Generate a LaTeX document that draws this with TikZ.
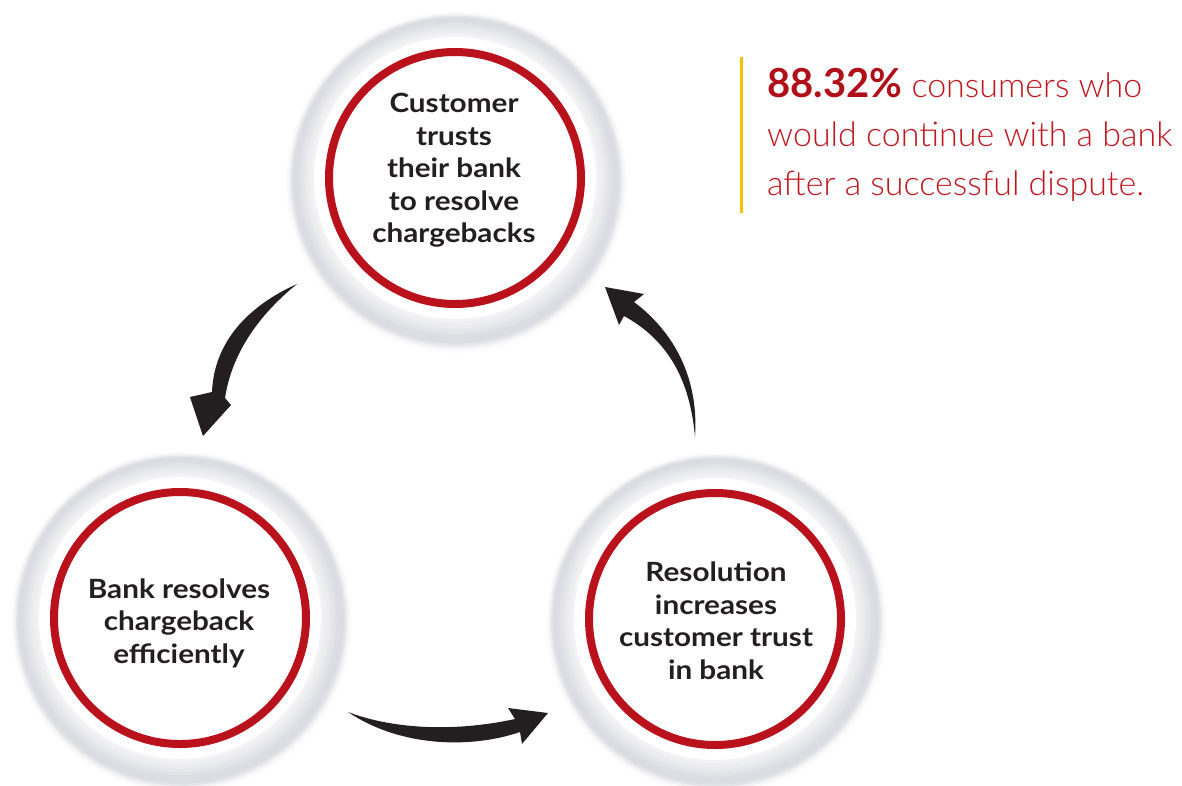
\documentclass[tikz,border=0pt]{standalone}
\usepackage{fontspec}
\setmainfont{Lato}
\newfontfamily\statlight{Lato Light}
\newfontfamily\circfont[FakeStretch=1.12]{Lato}
\usetikzlibrary{calc}

\definecolor{ringred}{RGB}{186,18,28}
\definecolor{statred}{RGB}{192,22,30}
\definecolor{statdark}{RGB}{176,16,26}
\definecolor{ink}{RGB}{35,31,32}
\definecolor{ringgrey}{RGB}{210,212,218}
\definecolor{bargold}{RGB}{246,192,0}

% grey embossed ring (darker towards its rim), white gap and red band
\newcommand\ringdisc[1]{%
  \foreach \rr/\pp/\dd in {171/4/4,169/14/3.6,167/34/3.2,165/62/2.8,163/76/2.4,
      161/80/2.0,159/76/1.6,156/66/1.2,153/55/0.9,150/45/0.6,147/36/0.3,144/28/0}{%
    \fill[ringgrey!\pp!white] ($(#1)+(0.4*\dd,\dd)$) circle[radius=\rr];
  }
  \fill[white] (#1) circle[radius=141];
  \draw[ringred, line width=8] (#1) circle[radius=126];
}

\tikzset{
  circtext/.style={align=center, text=ink, inner sep=0pt,
    font=\circfont\bfseries\fontsize{26.5}{32.5}\selectfont},
  statline/.style={anchor=base west, inner sep=0pt, text=statred,
    font=\statlight\fontsize{34}{49}\selectfont},
  bendarrow/.style={fill=ink, draw=none},
}

\begin{document}
\begin{tikzpicture}[x=1pt, y=-1pt]
  \useasboundingbox (0,0) rectangle (1182,785);

  % circle centres
  \coordinate (ctop) at (455,178);
  \coordinate (cleft) at (180,618);
  \coordinate (cright) at (715,619);

  \ringdisc{ctop}
  \ringdisc{cleft}
  \ringdisc{cright}

  \node[circtext] (trust) at (454,170.5)
    {Customer\\trusts\\their bank\\to resolve\\chargebacks};
  \node[circtext] (resolve) at (179,623)
    {Bank resolves\\chargeback\\efficiently};
  \node[circtext] (increase) at (716,620.6)
    {Resolution\\increases\\customer trust\\in bank};

  % tapered curved arrows of the cycle
  \fill[bendarrow] (297,284) .. controls (248,306) and (214,342) .. (212,392)
    -- (190,397) -- (203,436) -- (231,405) -- (225,398)
    .. controls (232,352) and (260,314) .. (297,284) -- cycle;
  \fill[bendarrow] (348,712) .. controls (390,728) and (450,733) .. (515,719)
    -- (508,708) -- (548,713) -- (522,744) -- (520,732)
    .. controls (470,749) and (400,747) .. (348,712) -- cycle;
  \fill[bendarrow] (695,437) .. controls (690,380) and (668,340) .. (624,316)
    -- (619,325) -- (605,287) -- (644,294) -- (634,302)
    .. controls (674,332) and (699,378) .. (695,437) -- cycle;

  % statistic with its gold rule
  \coordinate (bartop) at (741,57);
  \coordinate (barbot) at (741,213);
  \draw[bargold, line width=3] (bartop) -- (barbot);
  \node[statline] (stat1) at (767,97)
    {{\fontspec{Lato}\bfseries\fontsize{40}{49}\selectfont\color{statdark}88.32\%} consumers who};
  \node[statline] (stat2) at (767,146) {would continue with a bank};
  \node[statline] (stat3) at (767,195) {after a successful dispute.};
\end{tikzpicture}
\end{document}
